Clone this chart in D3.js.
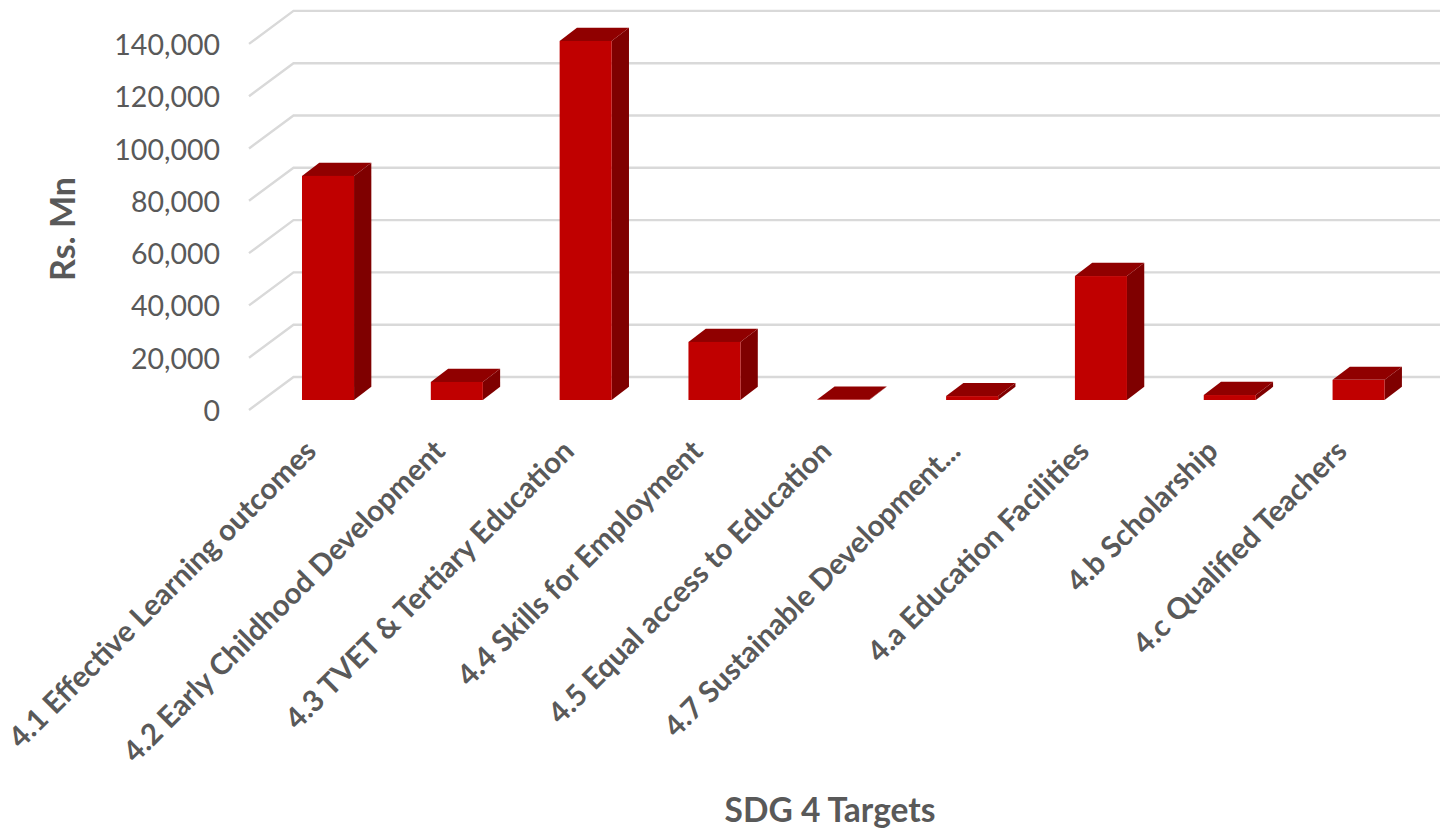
<!DOCTYPE html>
<html><head><meta charset="utf-8">
<script src="https://cdn.jsdelivr.net/npm/d3@7"></script>
<style>html,body{margin:0;padding:0;background:#fff}svg{display:block}text{font-family:Lato,"Open Sans",sans-serif}</style>
</head><body><svg id="c" width="1440" height="828"></svg>
<script>
const categories = ["4.1 Effective Learning outcomes","4.2 Early Childhood Development","4.3 TVET & Tertiary Education","4.4 Skills for Employment","4.5 Equal access to Education","4.7 Sustainable Development...","4.a Education Facilities","4.b Scholarship","4.c Qualified Teachers"];
const values = [85700, 6900, 137300, 22200, 150, 1500, 47400, 1900, 7700];
const tickValues = [0,20000,40000,60000,80000,100000,120000,140000];

const svg = d3.select("#c");
const x = d3.scaleBand().domain(categories).range([263.6,1423]).paddingInner(0.596).paddingOuter(0.298);
const y = d3.scaleLinear().domain([0,140000]).range([400,33.9]);
const fmt = d3.format(",");
const wall = 10, barDx = 17.3, barDy = 13.2;
const gridBackX = 293.5, gridFrontX = 249;

const grid = svg.append("g").attr("fill","none").attr("stroke","#d9d9d9").attr("stroke-width",2.4);
tickValues.forEach(t=>{
  const yf = y(t)+wall, yb = yf-33;
  grid.append("path").attr("d",`M${gridFrontX},${yf}L${gridBackX},${yb}L1440,${yb}`);
});

const bars = svg.append("g").selectAll("g").data(categories).join("g");
bars.each(function(c,i){
  const g=d3.select(this), l=x(c), w=x.bandwidth(), t=y(values[i]), b=y(0), r=l+w;
  g.append("path").attr("fill","#7f0000").attr("d",`M${r},${t}L${r+barDx},${t-barDy}L${r+barDx},${b-barDy}L${r},${b}Z`);
  g.append("path").attr("fill","#900000").attr("d",`M${l},${t}L${l+barDx},${t-barDy}L${r+barDx},${t-barDy}L${r},${t}Z`);
  g.append("rect").attr("fill","#c00000").attr("x",l).attr("y",t).attr("width",w).attr("height",b-t);
});

const tl = svg.append("g").attr("fill","#595959").attr("font-size",28.5).attr("text-anchor","end");
tickValues.forEach(t=>{
  tl.append("text").attr("x",220).attr("y",y(t)+10+11).text(fmt(t));
});

const cl = svg.append("g").attr("fill","#595959").attr("font-size",29.5).attr("font-weight",700).attr("text-anchor","end");
categories.forEach(c=>{
  const cx = x(c)+x.bandwidth()/2;
  cl.append("text").attr("transform",`translate(${cx-10},${453}) rotate(-45)`).text(c);
});

svg.append("text").attr("x",830).attr("y",822).attr("text-anchor","middle").attr("fill","#595959").attr("font-size",33.5).attr("font-weight",700).text("SDG 4 Targets");
svg.append("text").attr("transform","translate(75,229) rotate(-90)").attr("text-anchor","middle").attr("fill","#595959").attr("font-size",34).attr("font-weight",700).text("Rs. Mn");
</script></body></html>
